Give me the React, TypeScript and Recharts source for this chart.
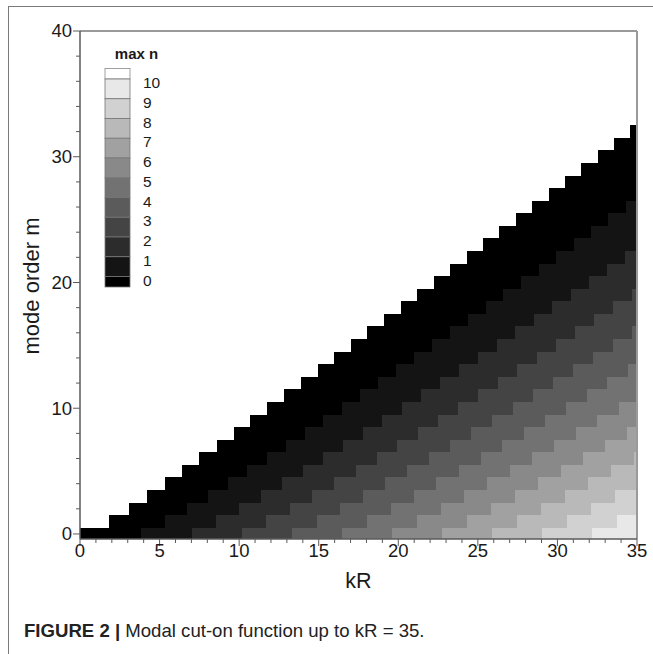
import React from 'react';
import { ComposedChart, XAxis, YAxis, ReferenceArea, ReferenceLine } from 'recharts';

// mode order m (rows)
const modeOrders = [
  0, 1, 2, 3, 4, 5, 6, 7, 8, 9, 10, 11, 12, 13, 14, 15, 16,
  17, 18, 19, 20, 21, 22, 23, 24, 25, 26, 27, 28, 29, 30, 31, 32,
];

// for each m: kR at which max n becomes 0, 1, 2, ...
const cutOnKR: number[][] = [
  [0, 3.8317, 7.0156, 10.1735, 13.3237, 16.4706, 19.6159, 22.7601, 25.9037, 29.0468, 32.1897],
  [1.8412, 5.3314, 8.5363, 11.706, 14.8636, 18.0155, 21.1644, 24.3113, 27.4571, 30.6019, 33.7462],
  [3.0542, 6.7061, 9.9695, 13.1704, 16.3475, 19.5129, 22.6716, 25.826, 28.9777, 32.1273],
  [4.2012, 8.0152, 11.3459, 14.5858, 17.7887, 20.9725, 24.1449, 27.3101, 30.4703, 33.6269],
  [5.3176, 9.2824, 12.6819, 15.9641, 19.196, 22.401, 25.5898, 28.7678, 31.9385],
  [6.4156, 10.5199, 13.9872, 17.3128, 20.5755, 23.8036, 27.0103, 30.2028, 33.3854],
  [7.5013, 11.7349, 15.2682, 18.6374, 21.9317, 25.1839, 28.4098, 31.6179, 34.8134],
  [8.5778, 12.9324, 16.5294, 19.9419, 23.2681, 26.545, 29.7907, 33.0152],
  [9.6474, 14.1155, 17.774, 21.2291, 24.5872, 27.8893, 31.1553, 34.3966],
  [10.7114, 15.2867, 19.0046, 22.5014, 25.8913, 29.2186, 32.5052],
  [11.7709, 16.4479, 20.223, 23.7607, 27.182, 30.5345, 33.8419],
  [12.8265, 17.6003, 21.4309, 25.0085, 28.4609, 31.8384],
  [13.8788, 18.7451, 22.6293, 26.246, 29.729, 33.1314],
  [14.9284, 19.8832, 23.8194, 27.4743, 30.9874, 34.4145],
  [15.9754, 21.0154, 25.002, 28.6943, 32.237],
  [17.0203, 22.1422, 26.1778, 29.9066, 33.4785],
  [18.0633, 23.2643, 27.3474, 31.112, 34.7125],
  [19.1045, 24.3819, 28.5113, 32.3109],
  [20.1441, 25.4956, 29.67, 33.5038],
  [21.1823, 26.6056, 30.8238, 34.6911],
  [22.2191, 27.7124, 31.9731],
  [23.2548, 28.816, 33.1181],
  [24.2894, 29.9168, 34.2593],
  [25.3229, 31.015],
  [26.3554, 32.1107],
  [27.3871, 33.204],
  [28.4179, 34.2951],
  [29.4478],
  [30.4771],
  [31.5055],
  [32.5333],
  [33.5604],
  [34.5868],
];

// flood colours for max n = 0 .. 10
const levelColors = [
  '#000000', '#141414', '#2c2c2c', '#444444', '#5b5b5b', '#727272',
  '#898989', '#a1a1a1', '#b9b9b9', '#d1d1d1', '#e8e8e8',
];
const legendLevels = [10, 9, 8, 7, 6, 5, 4, 3, 2, 1, 0];

const xTicks = [
  0, 1, 2, 3, 4, 5, 6, 7, 8, 9, 10, 11, 12, 13, 14, 15, 16, 17,
  18, 19, 20, 21, 22, 23, 24, 25, 26, 27, 28, 29, 30, 31, 32, 33, 34, 35,
];
const yTicks = [0, 2, 4, 6, 8, 10, 12, 14, 16, 18, 20, 22, 24, 26, 28, 30, 32, 34, 36, 38, 40];
const xLabelStep = 5;
const yLabelStep = 10;
const KR_MIN = 0;
const KR_MAX = 35;
const M_MIN = -0.4;
const M_MAX = 40;

const FONT = '"Liberation Sans", Arial, Helvetica, sans-serif';
const AXIS = '#5a5a5a';
const TEXT = '#1a1a1a';

const XTick = (props: any) => {
  const { x, y, payload } = props;
  const v = payload.value;
  const major = v % xLabelStep === 0;
  return (
    <g>
      <line x1={x} x2={x} y1={y} y2={y + (major ? 7 : 4)} stroke={AXIS} strokeWidth={1} />
      {major && (
        <text x={x} y={y + 17.5} textAnchor="middle" fontSize={18.5} fill={TEXT} fontFamily={FONT}>
          {v}
        </text>
      )}
    </g>
  );
};

const YTick = (props: any) => {
  const { x, y, payload } = props;
  const v = payload.value;
  const major = v % yLabelStep === 0;
  return (
    <g>
      <line x1={x} x2={x - (major ? 7 : 4)} y1={y} y2={y} stroke={AXIS} strokeWidth={1} />
      {major && (
        <text x={x - 8} y={y + 6.4} textAnchor="end" fontSize={18.5} fill={TEXT} fontFamily={FONT}>
          {v}
        </text>
      )}
    </g>
  );
};

// build cells: drawn top row first, each spanning to the right edge / bottom so later
// (lower, more-left) cells paint over them without seams
const cells: { key: string; x1: number; x2: number; y1: number; y2: number; fill: string }[] = [];
for (let i = modeOrders.length - 1; i >= 0; i--) {
  const m = modeOrders[i];
  cutOnKR[i].forEach((start, n) => {
    cells.push({ key: `c-${m}-${n}`, x1: start, x2: KR_MAX, y1: -0.5, y2: m + 0.5, fill: levelColors[n] });
  });
}

const LEG_X = 105;
const LEG_W = 25;
const LEG_TOP = 68.5;
const LEG_HALF = 10.5;
const LEG_BOX = 19.75;

const Overlay = () => {
  const boxes: React.ReactNode[] = [];
  boxes.push(
    <rect key="top" x={LEG_X} y={LEG_TOP} width={LEG_W} height={LEG_HALF} fill="#ffffff" stroke="#888" strokeWidth={0.8} />
  );
  legendLevels.forEach((lv, idx) => {
    const yTop = LEG_TOP + LEG_HALF + idx * LEG_BOX;
    const h = lv === 0 ? LEG_HALF : LEG_BOX;
    boxes.push(
      <rect key={`b${lv}`} x={LEG_X} y={yTop} width={LEG_W} height={h} fill={levelColors[lv]} stroke="#777" strokeWidth={0.8} />
    );
    boxes.push(
      <text key={`t${lv}`} x={143} y={yTop + 3.5 + 5.6} fontSize={15.5} fill={TEXT} fontFamily={FONT}>
        {lv}
      </text>
    );
  });
  return (
    <svg width={653} height={654} style={{ position: 'absolute', left: 0, top: 0, pointerEvents: 'none' }}>
      <text x={136.5} y={59} textAnchor="middle" fontSize={15} fontWeight="bold" fill={TEXT} fontFamily={FONT}>
        max n
      </text>
      {boxes}
      <text x={358.5} y={588} textAnchor="middle" fontSize={21.5} fill={TEXT} fontFamily={FONT}>
        kR
      </text>
      <text
        x={31}
        y={286}
        textAnchor="middle"
        dominantBaseline="central"
        fontSize={22}
        fill={TEXT}
        fontFamily={FONT}
        transform="rotate(-90 31 286)"
      >
        mode order m
      </text>
    </svg>
  );
};

export default function App() {
  return (
    <div style={{ position: 'absolute', left: 0, top: 0, width: 653, height: 654, background: '#fff', overflow: 'hidden' }}>
      <style>{`.recharts-reference-area path, .recharts-reference-area rect, .recharts-reference-area-rect { shape-rendering: crispEdges; }`}</style>
      <div
        style={{
          position: 'absolute',
          left: 8,
          top: 6,
          width: 660,
          height: 660,
          borderTop: '1px solid #7a7a7a',
          borderLeft: '1px solid #7a7a7a',
        }}
      />
      <div style={{ position: 'absolute', left: 0, top: 0 }}>
        <ComposedChart
          width={653}
          height={654}
          data={[]}
          margin={{ top: 31, right: 16, bottom: 85, left: 20 }}
        >
          <XAxis
            type="number"
            dataKey="kr"
            domain={[KR_MIN, KR_MAX]}
            ticks={xTicks}
            interval={0}
            allowDataOverflow
            height={30}
            tickLine={false}
            tickSize={0}
            tickMargin={0}
            tick={<XTick />}
            axisLine={{ stroke: AXIS, strokeWidth: 1.5 }}
          />
          <YAxis
            type="number"
            dataKey="m"
            domain={[M_MIN, M_MAX]}
            ticks={yTicks}
            interval={0}
            allowDataOverflow
            width={60}
            tickLine={false}
            tickSize={0}
            tickMargin={0}
            tick={<YTick />}
            axisLine={{ stroke: AXIS, strokeWidth: 1.5 }}
          />
          {cells.map((c) => (
            <ReferenceArea
              key={c.key}
              x1={c.x1}
              x2={c.x2}
              y1={c.y1}
              y2={c.y2}
              fill={c.fill}
              fillOpacity={1}
              stroke="none"
              shapeRendering="crispEdges"
              ifOverflow="hidden"
            />
          ))}
          <ReferenceLine y={M_MAX} stroke="#9a9a9a" strokeWidth={2} />
          <ReferenceLine x={KR_MAX} stroke="#9a9a9a" strokeWidth={2} />
        </ComposedChart>
      </div>
      <Overlay />
      <div
        style={{
          position: 'absolute',
          left: 24,
          top: 620,
          fontFamily: FONT,
          fontSize: 18.6,
          color: '#222',
          whiteSpace: 'nowrap',
        }}
      >
        <b>FIGURE 2 |</b> Modal cut-on function up to kR = 35.
      </div>
    </div>
  );
}
